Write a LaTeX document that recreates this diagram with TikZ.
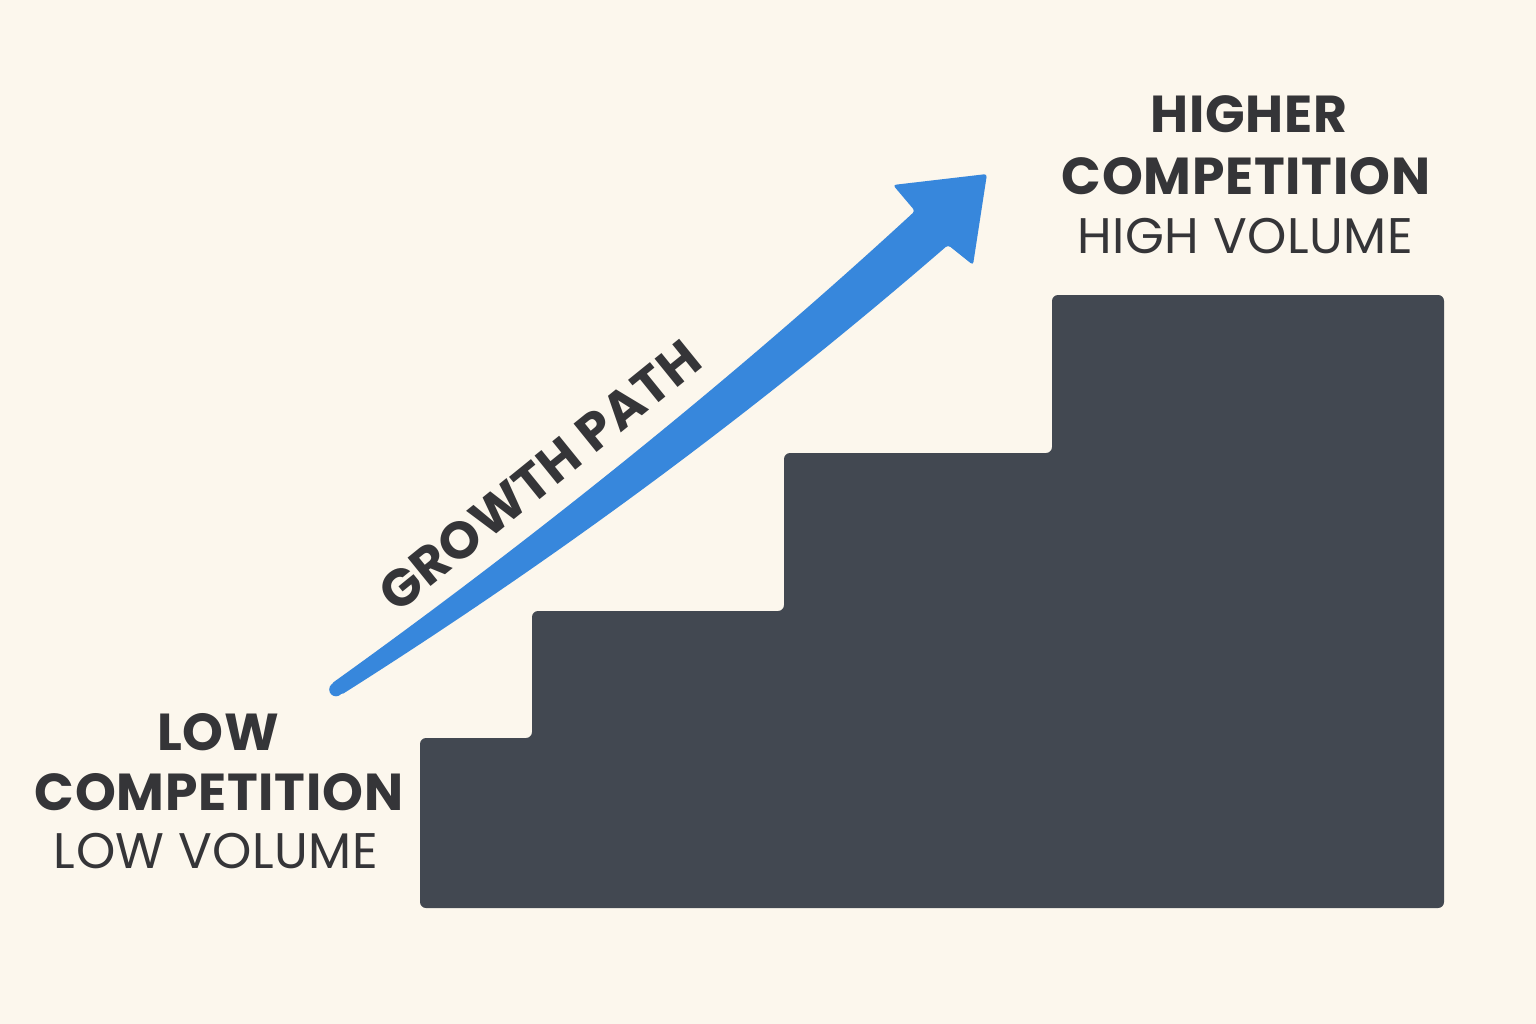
\documentclass[tikz,border=0pt]{standalone}
\usepackage{fontspec}
\setmainfont{Poppins}
\definecolor{bgc}{HTML}{FCF7ED}
\definecolor{stairc}{HTML}{424851}
\definecolor{arrowc}{HTML}{3787DC}
\definecolor{txtc}{HTML}{353538}
\begin{document}
\begin{tikzpicture}[x=1pt,y=-1pt,
  boldlbl/.style={text=txtc,inner sep=0pt,anchor=base,font=\fontsize{52}{58}\selectfont\bfseries\addfontfeature{LetterSpace=1.5}},
  reglbl/.style={text=txtc,inner sep=0pt,anchor=base,font=\fontsize{50}{56}\selectfont\addfontfeature{LetterSpace=1}},
]
\fill[bgc] (0,0) rectangle (1536,1024);
\useasboundingbox (0,0) rectangle (1536,1024);
% staircase
\fill[stairc,rounded corners=6pt] (420,908) -- (420,738) -- (532,738) -- (532,611) -- (784,611)
  -- (784,453) -- (1052,453) -- (1052,295) -- (1444,295) -- (1444,908) -- cycle;
% growth arrow
\fill[arrowc] (336,689.5) circle[radius=6.8pt];
\fill[arrowc,rounded corners=3pt] (331,684) .. controls (532,540) and (735,377) .. (915,211)
  -- (893,185) -- (987,174) -- (973,265) -- (948,245)
  .. controls (740,425) and (540,569) .. (341,695) -- cycle;
% labels
\node[boldlbl] (low1) at (218,750) {LOW};
\node[boldlbl] (low2) at (219,810) {COMPETITION};
\node[reglbl] (low3) at (216,868) {LOW VOLUME};
\node[boldlbl] (high1) at (1249,133) {HIGHER};
\node[boldlbl] (high2) at (1246,195) {COMPETITION};
\node[reglbl] (high3) at (1245,254) {HIGH VOLUME};
\node[boldlbl,rotate=39] (growth) at (551,490) {GROWTH PATH};
\end{tikzpicture}
\end{document}
